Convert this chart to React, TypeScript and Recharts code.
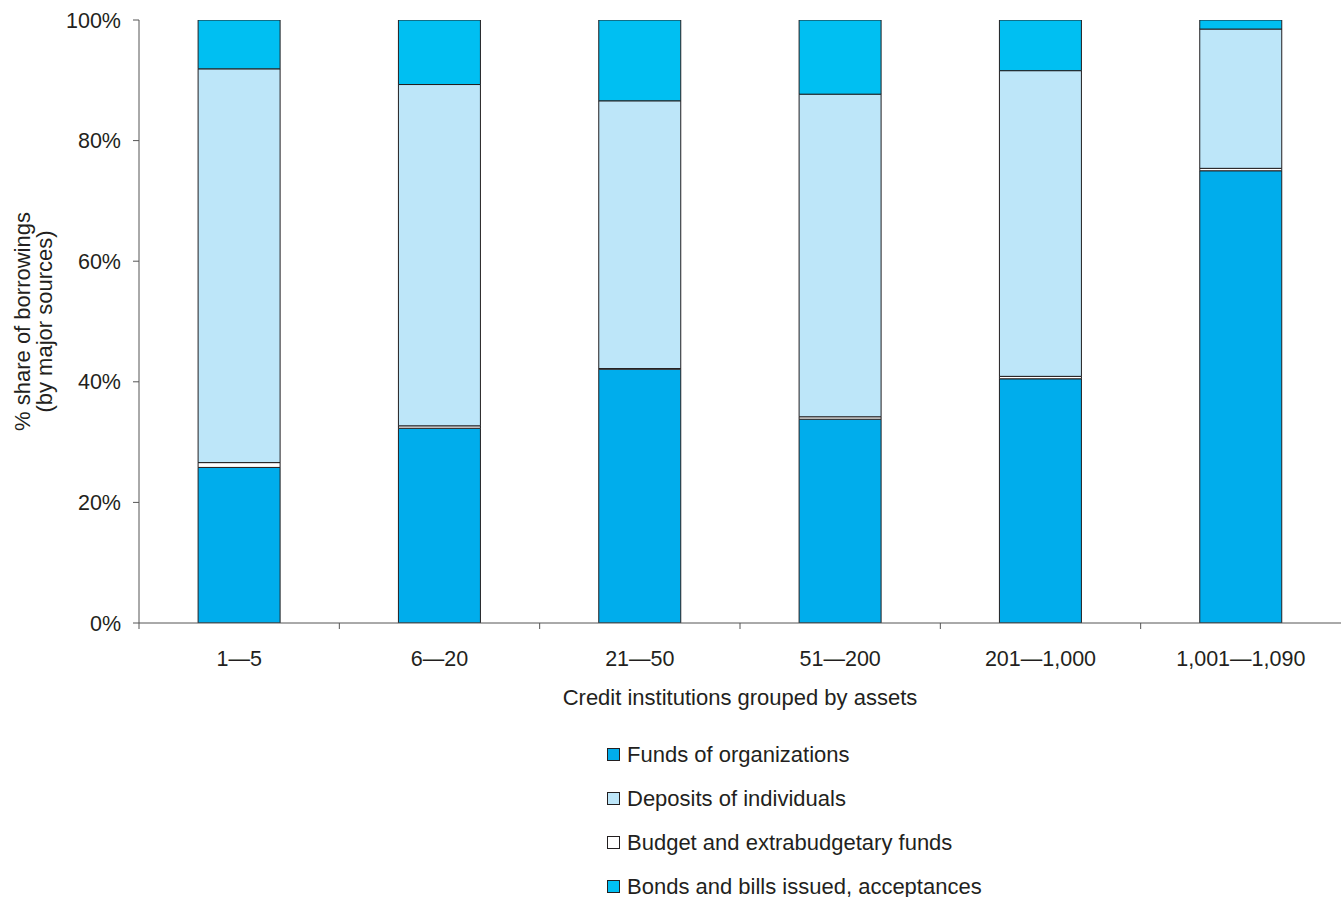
import { BarChart, Bar, XAxis, YAxis, Label } from 'recharts'

const groups = ['1—5', '6—20', '21—50', '51—200', '201—1,000', '1,001—1,090']
const fundsOfOrganizations = [25.8, 32.3, 42.1, 33.8, 40.5, 75.0]
const budgetFunds = [0.8, 0.4, 0.1, 0.4, 0.4, 0.4]
const depositsOfIndividuals = [65.3, 56.6, 44.4, 53.5, 50.7, 23.1]
const bondsAndBills = [8.1, 10.7, 13.4, 12.3, 8.4, 1.5]
const yTicks = [0, 20, 40, 60, 80, 100]

// legend order (differs from the stacking order below)
const series = [
  { key: 'funds', name: 'Funds of organizations', color: '#00adec' },
  { key: 'deposits', name: 'Deposits of individuals', color: '#bde6f9' },
  { key: 'budget', name: 'Budget and extrabudgetary funds', color: '#ffffff' },
  { key: 'bonds', name: 'Bonds and bills issued, acceptances', color: '#00bff2' },
]
const stackOrder = ['funds', 'budget', 'deposits', 'bonds']

const data = groups.map((g, i) => ({
  group: g,
  funds: fundsOfOrganizations[i],
  budget: budgetFunds[i],
  deposits: depositsOfIndividuals[i],
  bonds: bondsAndBills[i],
}))

const font = '"Liberation Sans", Arial, sans-serif'
const ink = '#231f20'
const FS = 22
const TICK_FS = 21.5
const TICK_SIZE = 6
const TICK_MARGIN = 22

function YTitle(props: any) {
  const { viewBox } = props
  const cy = viewBox.y + viewBox.height / 2
  return (
    <text transform={`translate(0, ${cy}) rotate(-90)`} textAnchor="middle" fill={ink} fontSize={FS} fontFamily={font}>
      <tspan x={0} y={30}>% share of borrowings</tspan>
      <tspan x={0} y={52}>(by major sources)</tspan>
    </text>
  )
}

// category label plus a tick mark on the left edge of each band
function GroupTick(props: any) {
  const { x, y, payload } = props
  const axisY = y - TICK_SIZE - TICK_MARGIN
  const edge = x - (payload.offset || 0)
  return (
    <g>
      <line x1={edge} x2={edge} y1={axisY} y2={axisY + TICK_SIZE} stroke="#555" />
      <text x={x} y={y} dy="0.71em" textAnchor="middle" fill={ink} fontSize={TICK_FS} fontFamily={font}>
        {payload.value}
      </text>
    </g>
  )
}

function LegendList() {
  return (
    <div style={{ position: 'absolute', top: 743, left: 607, display: 'flex', flexDirection: 'column', gap: 21 }}>
      {series.map((s) => (
        <div key={s.key} style={{ display: 'flex', alignItems: 'center', fontFamily: font, fontSize: FS, color: ink, lineHeight: '23px' }}>
          <span style={{ width: 13, height: 13, background: s.color, border: `1px solid ${ink}`, marginRight: 7, boxSizing: 'border-box' }} />
          {s.name}
        </div>
      ))}
    </div>
  )
}

export default function App() {
  return (
    <div style={{ position: 'absolute', left: 0, top: 0, width: 1341, height: 897, background: '#fff' }}>
      <BarChart width={1341} height={897} data={data} margin={{ top: 20, right: 0, left: 0, bottom: 184 }} barCategoryGap="29.5%">
        <XAxis
          dataKey="group"
          stroke="#555"
          tickLine={false}
          height={90}
          tickSize={TICK_SIZE}
          tickMargin={TICK_MARGIN}
          tick={<GroupTick />}
          interval={0}
        >
          <Label value="Credit institutions grouped by assets" position="insideBottom" offset={8} fill={ink} fontSize={FS} fontFamily={font} />
        </XAxis>
        <YAxis
          width={139}
          domain={[0, 100]}
          ticks={yTicks}
          tickFormatter={(v) => `${v}%`}
          tick={{ fill: ink, fontSize: TICK_FS, fontFamily: font }}
          tickSize={TICK_SIZE}
          tickMargin={12}
          stroke="#555"
          allowDataOverflow
        >
          <Label content={<YTitle />} />
        </YAxis>
        {stackOrder.map((k) => {
          const s = series.find((d) => d.key === k)!
          return (
            <Bar
              key={s.key}
              dataKey={s.key}
              name={s.name}
              stackId="a"
              fill={s.color}
              stroke={ink}
              strokeWidth={1}
              isAnimationActive={false}
            />
          )
        })}
      </BarChart>
      <LegendList />
    </div>
  )
}
